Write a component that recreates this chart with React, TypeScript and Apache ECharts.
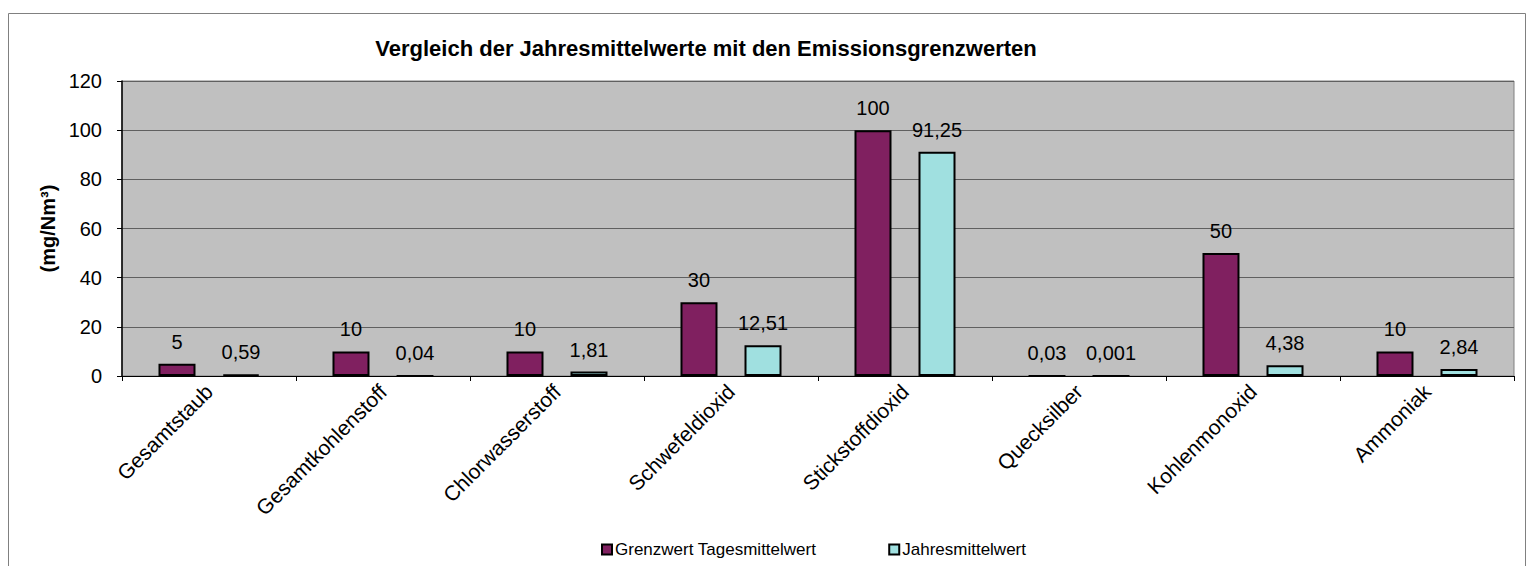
import React, { useEffect, useRef } from "react";
import * as echarts from "echarts";

const categories = [
  "Gesamtstaub",
  "Gesamtkohlenstoff",
  "Chlorwasserstoff",
  "Schwefeldioxid",
  "Stickstoffdioxid",
  "Quecksilber",
  "Kohlenmonoxid",
  "Ammoniak",
];
const grenzwert = [5, 10, 10, 30, 100, 0.03, 50, 10];
const jahresmittel = [0.59, 0.04, 1.81, 12.51, 91.25, 0.001, 4.38, 2.84];
const yTicks = [0, 20, 40, 60, 80, 100, 120];

const FONT = "'Liberation Sans', Arial, sans-serif";
const fmt = (v: number) => String(v).replace(".", ",");

export default function App() {
  const ref = useRef<HTMLDivElement>(null);
  useEffect(() => {
    document.body.style.margin = "0";
    const chart = echarts.init(ref.current!, null, { renderer: "svg" });
    const labelCfg = {
      show: true,
      position: "top" as const,
      distance: 12,
      fontFamily: FONT,
      fontSize: 20,
      color: "#000",
      formatter: (p: any) => fmt(p.value),
    };
    chart.setOption({
      animation: false,
      backgroundColor: "#fff",
      title: {
        text: "Vergleich der Jahresmittelwerte mit den Emissionsgrenzwerten",
        left: 701,
        textAlign: "center",
        top: 32,
        textStyle: { fontFamily: FONT, fontSize: 22, fontWeight: "bold", color: "#000" },
      },
      graphic: [
        {
          type: "rect",
          shape: { x: 8.5, y: 13.5, width: 1517, height: 620 },
          style: { fill: "none", stroke: "#808080", lineWidth: 1 },
          silent: true,
        },
      ],
      legend: {
        bottom: 3,
        left: 596,
        itemWidth: 10,
        itemHeight: 10,
        itemGap: 72,
        icon: "rect",
        textStyle: { fontFamily: FONT, fontSize: 17, color: "#000", padding: [0, 0, 0, -2] },
        data: ["Grenzwert Tagesmittelwert", "Jahresmittelwert"],
      },
      grid: {
        left: 122,
        top: 81,
        right: 20,
        bottom: 190,
        show: true,
        backgroundColor: "#C0C0C0",
        borderColor: "#808080",
        borderWidth: 1,
      },
      xAxis: {
        type: "category",
        data: categories,
        axisLine: { show: true, lineStyle: { color: "#000", width: 1 } },
        axisTick: { show: true, length: 5, lineStyle: { color: "#000" }, alignWithLabel: false },
        axisLabel: {
          rotate: 45,
          fontFamily: FONT,
          fontSize: 21,
          color: "#000",
          margin: 12,
        },
      },
      yAxis: {
        type: "value",
        min: 0,
        max: 120,
        interval: 20,
        name: "(mg/Nm³)",
        nameLocation: "middle",
        nameGap: 64,
        nameRotate: 90,
        nameTextStyle: { fontFamily: FONT, fontSize: 20, fontWeight: "bold", color: "#000" },
        axisLine: { show: true, lineStyle: { color: "#000", width: 1.5 } },
        axisTick: { show: true, length: 5, lineStyle: { color: "#000" } },
        axisLabel: {
          fontFamily: FONT,
          fontSize: 20,
          color: "#000",
          margin: 20,
          formatter: (v: number) => (yTicks.includes(v) ? String(v) : ""),
        },
        splitLine: { show: true, lineStyle: { color: "#606060", width: 1 } },
      },
      series: [
        {
          name: "Grenzwert Tagesmittelwert",
          type: "bar",
          data: grenzwert,
          barWidth: 37,
          barGap: "73%",
          itemStyle: { color: "#802060", borderColor: "#000", borderWidth: 2 },
          label: labelCfg,
        },
        {
          name: "Jahresmittelwert",
          type: "bar",
          data: jahresmittel,
          barWidth: 37,
          itemStyle: { color: "#A0E0E0", borderColor: "#000", borderWidth: 2 },
          label: labelCfg,
        },
      ],
    });
    return () => chart.dispose();
  }, []);
  return <div ref={ref} style={{ width: 1534, height: 566 }} />;
}
